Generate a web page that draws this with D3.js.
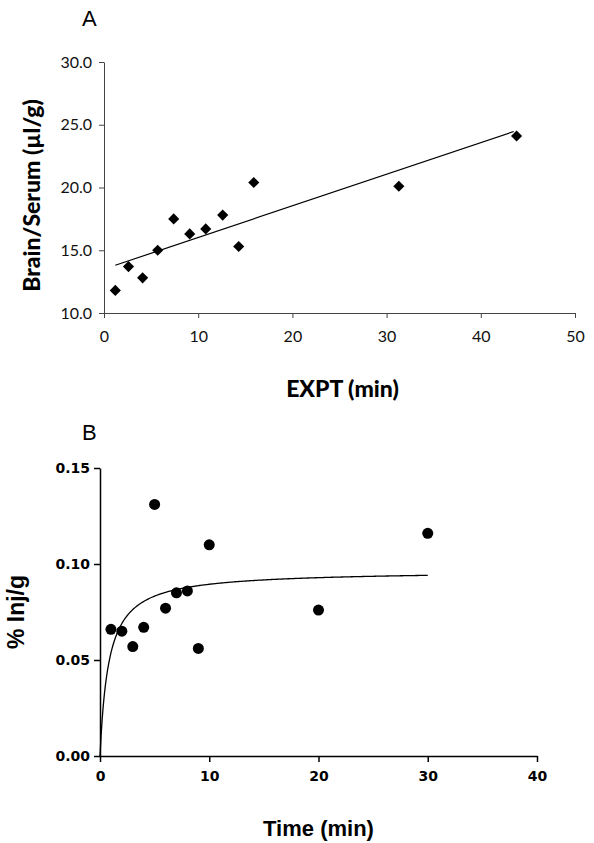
<!DOCTYPE html>
<html><head><meta charset="utf-8">
<script src="https://cdn.jsdelivr.net/npm/d3@7"></script>
<style>body{margin:0;background:#fff}svg{display:block}</style>
</head><body>
<svg id="c" width="594" height="843"></svg>
<script>
// Panel A data
const aX = [1.2, 2.6, 4.1, 5.7, 7.4, 9.1, 10.8, 12.6, 14.3, 15.9, 31.3, 43.8];
const aY = [11.8, 13.7, 12.8, 15.0, 17.5, 16.3, 16.7, 17.8, 15.3, 20.4, 20.1, 24.1];
const aFit = [0.252, 13.5]; // slope, intercept
const aXTicks = [0, 10, 20, 30, 40, 50];
const aYTicks = [10, 15, 20, 25, 30];
// Panel B data
const bX = [1, 2, 3, 4, 5, 6, 7, 8, 9, 10, 20, 30];
const bY = [0.066, 0.065, 0.057, 0.067, 0.131, 0.077, 0.085, 0.086, 0.056, 0.110, 0.076, 0.116];
const bFit = [0.0966, 0.8]; // Bmax, K (hyperbolic fit)
const bXTicks = [0, 10, 20, 30, 40];
const bYTicks = [0, 0.05, 0.10, 0.15];

const svg = d3.select("#c");

// ---------- Panel A ----------
const ax = d3.scaleLinear().domain([0, 50]).range([104, 575]);
const ay = d3.scaleLinear().domain([10, 30]).range([313, 62]);
const gA = svg.append("g").attr("font-family", "Lato, 'Open Sans', sans-serif");

const axA = gA.append("g").attr("transform", `translate(0,${ay(10)})`)
  .call(d3.axisBottom(ax).tickValues(aXTicks).tickSize(5).tickSizeOuter(0).tickPadding(13));
const ayA = gA.append("g").attr("transform", `translate(${ax(0)},0)`)
  .call(d3.axisLeft(ay).tickValues(aYTicks).tickFormat(d3.format(".1f")).tickSize(5).tickSizeOuter(0).tickPadding(7));
[axA, ayA].forEach(g => {
  g.selectAll("path,line").attr("stroke", "#444").attr("stroke-width", 1);
  g.selectAll("text").attr("font-size", 16).attr("fill", "#111").attr("font-family", "Lato, sans-serif");
});

const xs = d3.extent(aX);
gA.append("line")
  .attr("x1", ax(xs[0])).attr("y1", ay(aFit[0] * xs[0] + aFit[1]))
  .attr("x2", ax(43.5)).attr("y2", ay(aFit[0] * 43.5 + aFit[1]))
  .attr("stroke", "#000").attr("stroke-width", 1.2);

gA.selectAll("path.pt").data(aX).join("path").attr("class", "pt")
  .attr("d", d3.symbol(d3.symbolSquare, 62)())
  .attr("transform", (d, i) => `translate(${ax(d)},${ay(aY[i])}) rotate(45)`)
  .attr("fill", "#000");

gA.append("text").attr("x", 82).attr("y", 26).attr("font-size", 22)
  .attr("font-family", "'Liberation Sans', Arial, sans-serif").text("A");
gA.append("text").attr("transform", `translate(40,${(ay(10) + ay(30)) / 2 + 8}) rotate(-90)`)
  .attr("text-anchor", "middle").attr("font-size", 23).attr("font-weight", "900").text("Brain/Serum (µl/g)");
gA.append("text").attr("x", (ax(0) + ax(50)) / 2 + 3).attr("y", 397)
  .attr("text-anchor", "middle").attr("font-size", 23).attr("font-weight", "900").text("EXPT (min)");

// ---------- Panel B ----------
const bx = d3.scaleLinear().domain([0, 40]).range([100, 537]);
const by = d3.scaleLinear().domain([0, 0.15]).range([756, 468]);
const gB = svg.append("g");

const axB = gB.append("g").attr("transform", `translate(0,${by(0)})`)
  .call(d3.axisBottom(bx).tickValues(bXTicks).tickSize(6).tickSizeOuter(0).tickPadding(9));
const ayB = gB.append("g").attr("transform", `translate(${bx(0)},0)`)
  .call(d3.axisLeft(by).tickValues(bYTicks).tickFormat(d3.format(".2f")).tickSize(6).tickSizeOuter(0).tickPadding(4));
[axB, ayB].forEach(g => {
  g.selectAll("path,line").attr("stroke", "#000").attr("stroke-width", 1.5);
  g.selectAll("text").attr("font-size", 14).attr("font-weight", "bold").attr("fill", "#000")
    .attr("font-family", "'DejaVu Sans', sans-serif");
});

const curve = d3.range(0, 30.01, 0.1).map(t => [t, bFit[0] * t / (bFit[1] + t)]);
gB.append("path").datum(curve)
  .attr("d", d3.line().x(d => bx(d[0])).y(d => by(d[1])))
  .attr("fill", "none").attr("stroke", "#000").attr("stroke-width", 1.3);

gB.selectAll("circle.pt").data(bX).join("circle").attr("class", "pt")
  .attr("cx", d => bx(d)).attr("cy", (d, i) => by(bY[i])).attr("r", 5.5).attr("fill", "#000");

gB.append("text").attr("x", 82).attr("y", 440).attr("font-size", 22)
  .attr("font-family", "'Liberation Sans', Arial, sans-serif").text("B");
gB.append("text").attr("transform", `translate(24,${(by(0) + by(0.15)) / 2}) rotate(-90)`)
  .attr("text-anchor", "middle").attr("font-size", 23).attr("font-weight", "bold")
  .attr("font-family", "'Liberation Sans', Arial, sans-serif").text("% Inj/g");
gB.append("text").attr("x", (bx(0) + bx(40)) / 2).attr("y", 836)
  .attr("text-anchor", "middle").attr("font-size", 22).attr("font-weight", "bold")
  .attr("font-family", "'Liberation Sans', Arial, sans-serif").text("Time (min)");
</script>
</body></html>
